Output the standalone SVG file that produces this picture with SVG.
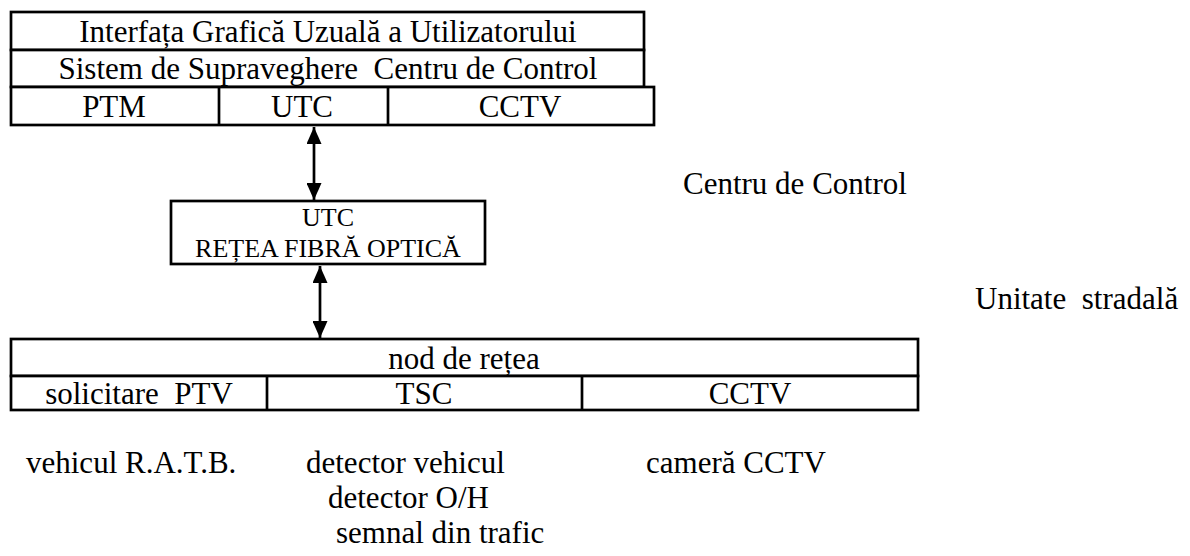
<svg xmlns="http://www.w3.org/2000/svg" width="1190" height="556" viewBox="0 0 1190 556">
<defs>
<marker id="ah" viewBox="0 0 17 15" refX="17" refY="7.5" markerWidth="17" markerHeight="15" markerUnits="userSpaceOnUse" orient="auto-start-reverse">
<path d="M0,0 L17,7.5 L0,15 Z" fill="#000"/>
</marker>
</defs>
<style>
rect{fill:#fff;stroke:#000;stroke-width:2.7}
.dv{stroke:#000;stroke-width:2.7}
text{font-family:"Liberation Serif","Times New Roman",serif;fill:#000}
.L{font-size:31px}
.M{font-size:26px}
.c{text-anchor:middle}
.cn{stroke:#000;stroke-width:2.7;fill:none}
</style>
<rect width="1190" height="556" style="fill:#fff;stroke:none"/>
<g id="top-box">
<rect x="11" y="12" width="633" height="38"/>
<text class="L c" x="328" y="42">Interfața Grafică Uzuală a Utilizatorului</text>
<rect x="11" y="50" width="633" height="37"/>
<text class="L c" x="328" y="79" xml:space="preserve">Sistem de Supraveghere  Centru de Control</text>
<rect x="11" y="87" width="643" height="38"/>
<line class="dv" x1="219" y1="87" x2="219" y2="125"/>
<line class="dv" x1="388" y1="87" x2="388" y2="125"/>
<text class="L c" x="114" y="117">PTM</text>
<text class="L c" x="302" y="117">UTC</text>
<text class="L c" x="520" y="117">CCTV</text>
</g>
<g id="retea-box">
<rect x="171" y="201" width="314" height="63"/>
<text class="M c" x="328" y="226">UTC</text>
<text class="M c" x="328" y="257">REȚEA FIBRĂ OPTICĂ</text>
</g>
<g id="nod-box">
<rect x="11" y="339" width="907" height="37"/>
<text class="L c" x="464" y="369">nod de rețea</text>
<rect x="11" y="376" width="907" height="34"/>
<line class="dv" x1="267" y1="376" x2="267" y2="410"/>
<line class="dv" x1="582" y1="376" x2="582" y2="410"/>
<text class="L c" x="139" y="404" xml:space="preserve">solicitare  PTV</text>
<text class="L c" x="424" y="404">TSC</text>
<text class="L c" x="750" y="404">CCTV</text>
</g>
<g id="labels">
<text class="L" x="683" y="194">Centru de Control</text>
<text class="L" x="975" y="309" xml:space="preserve">Unitate  stradală</text>
<text class="L" x="26" y="473">vehicul R.A.T.B.</text>
<text class="L" x="306" y="473">detector vehicul</text>
<text class="L" x="328" y="508">detector O/H</text>
<text class="L" x="336" y="543">semnal din trafic</text>
<text class="L" x="646" y="473">cameră CCTV</text>
</g>
<g id="connectors">
<line class="cn" x1="314" y1="127" x2="314" y2="200" marker-start="url(#ah)" marker-end="url(#ah)"/>
<line class="cn" x1="320" y1="266" x2="320" y2="338" marker-start="url(#ah)" marker-end="url(#ah)"/>
</g>
</svg>
